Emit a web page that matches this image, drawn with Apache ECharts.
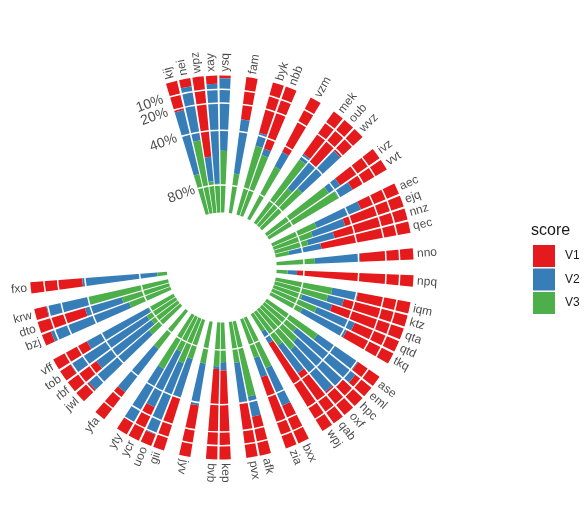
<!DOCTYPE html>
<html><head><meta charset="utf-8">
<script src="https://cdn.jsdelivr.net/npm/echarts@6/dist/echarts.min.js"></script>
<style>html,body{margin:0;padding:0;background:#fff}#c{width:588px;height:511px}</style>
</head><body><div id="c"></div>
<script>
// groups of categories, clockwise from the top; one empty slot between groups
const groups = [
  ['kij','nei','wpz','xay','ysq'], ['fam'], ['byk','nbb'], ['vzm'], ['mek','oub','wvz'], ['ivz','vvt'],
  ['aec','ejq','nnz','qec'], ['nno'], ['npq'], ['iqm','ktz','qta','qtd','tkq'],
  ['ase','eml','hpc','oxf','qab','wpj'], ['bxx','zia'], ['afk','pvx'], ['kep','bvb'], ['jyv'],
  ['gii','uoo','ycr','yty'], ['yfa'], ['jwl','rbf','tob','vff'], ['bzj','dto','krw'], ['fxo']
];
const categories = groups.flat();
// percentages per category (same order as categories)
const V1 = [22,6,59,6,2, 31, 38,48, 45, 38,40,22, 35,29, 30,45,55,66, 39, 85, 39,48,55,35,38,
            19,15,20,22,45,75, 30,55, 29,41, 65,66, 38, 40,9,27,10, 25, 12,26,9,28, 7,36,9, 38];
const V2 = [48,40,18,73,53, 40, 10,5, 12, 5,25,38, 10,12, 35,25,20,24, 33, 7, 19,12,23,30,36,
            36,55,45,40,25,10, 30,15, 15,29, 6,2, 31, 30,56,45,45, 40, 58,50,66,51, 61,28,31, 55];
const V3 = [30,54,23,21,45, 29, 52,47, 43, 57,35,40, 55,59, 35,30,25,10, 28, 8, 42,40,22,35,26,
            45,30,35,38,30,15, 40,30, 56,30, 29,32, 31, 30,35,28,45, 35, 30,24,25,21, 32,36,60, 7];
const seriesNames = ['V1','V2','V3'];
const tickValues = [10,20,40,80];
const tickLabels = ['10%','20%','40%','80%'];
const totalSlots = 89;

const colors = ['#E41A1C','#377EB8','#4DAF4A'];
const FONT = '"Liberation Sans", Arial, sans-serif';
const startAngle = 107.2;
const step = 360 / totalSlots;

const slots = [];
const slotOf = {};
groups.forEach((g, gi) => {
  g.forEach(n => { slotOf[n] = slots.length; slots.push(n); });
  if (gi < groups.length - 1) slots.push('_gap' + gi);
});
while (slots.length < totalSlots) slots.push('_gap' + slots.length);

const toSlots = arr => slots.map(s => (s in slotOf) ? arr[categories.indexOf(s)] : null);
const values = [V1, V2, V3];

const barSeries = seriesNames.map((nm, k) => ({
  type: 'bar', coordinateSystem: 'polar', name: nm, stack: 'score',
  data: toSlots(values[k]), barWidth: '84%',
  itemStyle: { color: colors[k] }, z: 2
}));

const labelData = categories.map(n => {
  const s = slotOf[n];
  const a = startAngle - (s + 0.5) * step;   // math angle (deg, ccw from 3 o'clock)
  const cw = 90 - a;                           // clockwise from top
  const flip = cw > 195;
  return {
    value: [-2.8, s],
    label: { show: true, formatter: n, rotate: flip ? a + 180 : a, align: flip ? 'right' : 'left' }
  };
});

// radial tick labels, placed in the last (empty) slot next to the axis start
const axisSlot = slots.length - 1;
const tickData = tickValues.map((v, i) => ({
  value: [v, axisSlot],
  label: { show: true, formatter: tickLabels[i] }
}));

const chart = echarts.init(document.getElementById('c'), null, { renderer: 'canvas' });
chart.setOption({
  animation: false,
  backgroundColor: '#fff',
  title: { text: 'score', left: 526, top: 218, textStyle: { fontSize: 16, fontWeight: 'normal', color: '#1a1a1a', fontFamily: FONT } },
  legend: {
    data: seriesNames, orient: 'vertical', left: 528, top: 240, itemWidth: 22, itemHeight: 22, itemGap: 1.5,
    icon: 'rect', selectedMode: false,
    textStyle: { fontSize: 12, color: '#1a1a1a', fontFamily: FONT, padding: [0, 0, 0, 5] }
  },
  polar: { center: [221.7, 267.5], radius: [55, 192] },
  angleAxis: {
    type: 'category', data: slots, startAngle: startAngle, clockwise: true, boundaryGap: true,
    axisLine: { show: false }, axisTick: { show: false }, axisLabel: { show: false }, splitLine: { show: false }
  },
  radiusAxis: {
    type: 'value', min: 0, max: 100, inverse: true, z: 10,
    axisLine: { show: false },
    axisTick: { show: false, customValues: tickValues },
    axisLabel: { show: false, customValues: tickValues },
    splitLine: { show: true, lineStyle: { color: '#ffffff', width: 1.5 } }
  },
  series: barSeries.concat([{
    type: 'scatter', coordinateSystem: 'polar', symbolSize: 1, silent: true, clip: false,
    itemStyle: { color: 'rgba(0,0,0,0)' },
    label: { position: 'inside', verticalAlign: 'middle', fontSize: 12, color: '#1a1a1a', fontFamily: FONT },
    labelLayout: { hideOverlap: false },
    data: labelData, z: 20
  }, {
    type: 'scatter', coordinateSystem: 'polar', symbolSize: 1, silent: true, clip: false,
    itemStyle: { color: 'rgba(0,0,0,0)' },
    label: { position: 'inside', align: 'right', verticalAlign: 'middle', rotate: 20, offset: [-2, 1],
             fontSize: 14, color: '#1a1a1a', fontFamily: FONT },
    labelLayout: { hideOverlap: false },
    data: tickData, z: 20
  }])
});
</script></body></html>
